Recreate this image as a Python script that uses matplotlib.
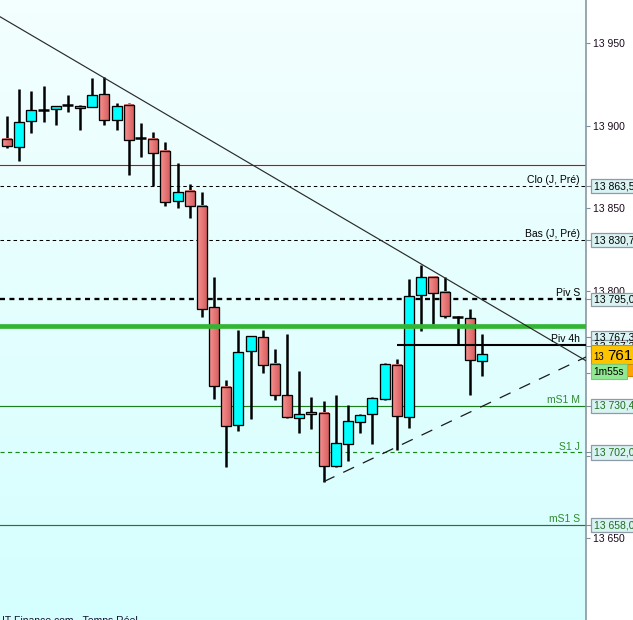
import numpy as np
import matplotlib
matplotlib.use('Agg')
import matplotlib.pyplot as plt
from matplotlib.patches import Rectangle
from matplotlib.ticker import FuncFormatter, MultipleLocator

plt.rcParams['font.family'] = ['Liberation Sans', 'DejaVu Sans']
plt.rcParams['lines.scale_dashes'] = False

# candles
opens = [13892.1, 13887.0, 13903.0, 13909.5, 13910.3, 13912.7, 13912.1, 13911.3, 13919.0, 13903.6,
         13912.9, 13892.4, 13892.1, 13885.0, 13854.4, 13860.5, 13851.3, 13789.9, 13741.9, 13718.8,
         13763.8, 13771.7, 13755.9, 13737.0, 13723.1, 13725.5, 13726.1, 13693.9, 13707.3, 13720.6,
         13725.5, 13734.6, 13755.3, 13723.7, 13797.2, 13808.2, 13799.1, 13784.2, 13783.3, 13757.7]
highs = [13906.2, 13922.0, 13920.8, 13923.9, 13912.1, 13918.4, 13912.9, 13928.7, 13929.3, 13914.1,
         13913.7, 13901.5, 13896.5, 13890.0, 13877.7, 13864.7, 13860.0, 13808.4, 13745.7, 13776.1,
         13772.3, 13776.0, 13765.0, 13774.1, 13751.6, 13735.4, 13733.0, 13737.0, 13731.0, 13725.5,
         13735.8, 13756.5, 13758.9, 13807.0, 13815.5, 13808.4, 13808.2, 13784.5, 13788.7, 13774.1]
lows = [13886.4, 13878.9, 13895.5, 13902.2, 13900.2, 13908.2, 13897.7, 13911.3, 13900.3, 13897.7,
        13870.4, 13880.9, 13863.5, 13851.1, 13849.9, 13844.4, 13784.2, 13734.4, 13693.0, 13714.9,
        13722.2, 13750.2, 13733.8, 13722.8, 13713.7, 13716.1, 13684.3, 13693.3, 13696.7, 13713.7,
        13707.0, 13734.0, 13703.6, 13717.0, 13775.4, 13779.6, 13783.3, 13767.4, 13737.0, 13748.6]
closes = [13887.6, 13902.6, 13909.7, 13909.5, 13912.1, 13912.7, 13910.9, 13918.4, 13903.4, 13912.1,
          13891.5, 13892.4, 13883.6, 13853.6, 13859.9, 13851.3, 13788.7, 13742.5, 13718.2, 13763.2,
          13772.3, 13755.3, 13737.0, 13723.7, 13725.5, 13726.7, 13693.9, 13707.9, 13721.2, 13724.9,
          13735.2, 13755.9, 13724.3, 13796.6, 13808.2, 13798.4, 13784.5, 13784.2, 13758.3, 13761.4]

# levels
red_level = 13876.2
clo_prev = 13863.5
bas_prev = 13830.7
piv_s = 13795.0
green_level = 13778.5
piv_4h = 13767.3
ms1_m = 13730.4
s1_j = 13702.0
ms1_s = 13658.0
last_price = 13761.4
timer_text = '1m55s'

# trend lines (index, price)
down_x = [-0.575, 47.54]
down_y = [13966.1, 13757.6]
up_x = [26.0, 47.54]
up_y = [13684.3, 13759.9]
piv4h_start = 32.0

XMIN, XMAX = -0.575, 47.54
YMAX = 13976.24
YMIN = 13600.48
PX = (YMAX - YMIN) / 620.0  # price per pixel
AXW = 586.0

fig = plt.figure(figsize=(6.33, 6.20), dpi=100, facecolor='white')
ax = fig.add_axes([0, 0, AXW / 633, 1])

# background gradient
g = np.linspace(0, 1, 256)[:, None]
top = np.array([0.955, 0.997, 0.997])
bot = np.array([0.835, 1.0, 1.0])
bg = (top[None, None, :] * (1 - g[:, :, None]) + bot[None, None, :] * g[:, :, None])
ax.imshow(bg, extent=[XMIN, XMAX, YMIN, YMAX], aspect='auto', origin='upper', zorder=0)

# horizontal levels (behind candles)
ax.axhline(red_level, color='#e00000', lw=0.8, zorder=1)
ax.axhline(clo_prev, color='black', lw=0.75, ls=(0, (2.5, 2.2)), zorder=1)
ax.axhline(bas_prev, color='black', lw=0.75, ls=(0, (2.5, 2.2)), zorder=1)
ax.axhline(piv_s, color='black', lw=1.65, ls=(0, (3.6, 3.2)), zorder=1)
ax.axhline(ms1_m, color='#1b7f1b', lw=0.85, zorder=1)
ax.axhline(s1_j, color='#1a8a1a', lw=0.85, ls=(0, (3.0, 2.4)), zorder=1)
ax.axhline(ms1_s, color='#2f6f2f', lw=0.85, zorder=1)

# candles
w = 0.82
red_grad = np.linspace(0, 1, 16)[None, :, None]
r_left = np.array([0.97, 0.57, 0.57])
r_right = np.array([0.85, 0.38, 0.38])
red_img = r_left * (1 - red_grad) + r_right * red_grad
for i in range(len(opens)):
    o, h, l, c = opens[i], highs[i], lows[i], closes[i]
    ax.vlines(i, l, h, color='black', lw=1.8, zorder=3)
    if abs(c - o) < 0.3:
        ax.hlines(o, i - 0.45, i + 0.45, color='black', lw=1.8, zorder=4)
        continue
    y0, y1 = min(o, c), max(o, c)
    if c < o:
        ax.imshow(red_img, extent=[i - w / 2, i + w / 2, y0, y1], aspect='auto', zorder=4)
        ax.add_patch(Rectangle((i - w / 2, y0), w, y1 - y0, fc='none', ec='black', lw=0.95, zorder=5))
    else:
        ax.add_patch(Rectangle((i - w / 2, y0), w, y1 - y0, fc='#00ffff', ec='black', lw=0.95, zorder=5))

# lines in front
ax.axhline(green_level, color='#33b533', lw=3.4, zorder=6)
ax.hlines(piv_4h, piv4h_start, XMAX, color='black', lw=1.5, zorder=6)
ax.plot(down_x, down_y, color='#2a2a2a', lw=0.85, zorder=6)
ax.plot(up_x, up_y, color='#1a1a1a', lw=0.9, ls=(0, (8.6, 7.0)), zorder=6)

tr = ax.get_yaxis_transform()

def line_label(price, text, color):
    ax.annotate(text, xy=(580 / AXW, price), xycoords=tr, xytext=(0, 2.0),
                textcoords='offset points', ha='right', va='baseline',
                fontsize=7.5, color=color, zorder=7)

line_label(clo_prev, 'Clo (J, Pré)', 'black')
line_label(bas_prev, 'Bas (J, Pré)', 'black')
line_label(piv_s, 'Piv S', 'black')
line_label(piv_4h, 'Piv 4h', 'black')
line_label(ms1_m, 'mS1 M', '#2e8b2e')
line_label(s1_j, 'S1 J', '#2e8b2e')
line_label(ms1_s, 'mS1 S', '#2e8b2e')

ax.set_xlim(XMIN, XMAX)
ax.set_ylim(YMIN, YMAX)
ax.set_xticks([])
ax.yaxis.tick_right()
ax.yaxis.set_major_locator(MultipleLocator(50))
ax.yaxis.set_major_formatter(FuncFormatter(lambda v, p: f"{int(round(v)):,}".replace(',', ' ')))
ax.tick_params(axis='y', direction='out', length=3, width=0.8, color='#7f8f9a',
               pad=2.2, labelsize=7.5, labelcolor='#1a0a1a')
for s in ['left', 'top', 'bottom']:
    ax.spines[s].set_visible(False)
ax.spines['right'].set_color('#7f8f9a')
ax.spines['right'].set_linewidth(1.1)


def axis_box(price, text, color, dy_px=0.0, h=14):
    yc = price - dy_px * PX
    ax.plot([1, 591 / AXW], [yc, yc], transform=tr, color='#7f8f9a', lw=0.8,
            clip_on=False, zorder=6)
    ax.add_patch(Rectangle((591 / AXW, yc - h / 2 * PX), 60 / AXW, h * PX, transform=tr,
                           fc='#d9f3f3', ec='#8c9ba5', lw=0.9, clip_on=False, zorder=6))
    ax.text(594 / AXW, yc, text, transform=tr, ha='left', va='center', fontsize=7.5,
            color=color, clip_on=False, zorder=7)


def fmt(v):
    return f"{v:,.1f}".replace(',', ' ').replace('.', ',')


axis_box(clo_prev, fmt(clo_prev), 'black')
axis_box(bas_prev, fmt(bas_prev), 'black')
axis_box(piv_s, fmt(piv_s), 'black', h=13)
axis_box(piv_4h, fmt(piv_4h), 'black', dy_px=-7.5, h=13)
axis_box(piv_4h, fmt(piv_4h), 'black', dy_px=1.5, h=13)
axis_box(ms1_m, fmt(ms1_m), '#1e6e1e')
axis_box(s1_j, fmt(s1_j), '#1e6e1e', h=15)
axis_box(ms1_s, fmt(ms1_s), '#1e6e1e')

# current price + timer
ax.add_patch(Rectangle((627 / AXW, last_price - 21.5 * PX), 20 / AXW, 15 * PX, transform=tr,
                       fc='#ffa500', ec='#d08000', lw=0.8, clip_on=False, zorder=8))
ax.add_patch(Rectangle((591 / AXW, last_price - 9.7 * PX), 60 / AXW, 19.4 * PX, transform=tr,
                       fc='#ffc400', ec='#c89000', lw=0.8, clip_on=False, zorder=9))
price_str = f"{int(last_price):,}".replace(',', ' ')
big, small = price_str.split(' ')[1], price_str.split(' ')[0]
ax.text(593 / AXW, last_price - 6 * PX, small, transform=tr, ha='left', va='baseline',
        fontsize=7, color='black', clip_on=False, zorder=10)
ax.text(607 / AXW, last_price - 6 * PX, big, transform=tr, ha='left', va='baseline',
        fontsize=11, color='black', clip_on=False, zorder=10)
ax.add_patch(Rectangle((591 / AXW, last_price - 25 * PX), 35.7 / AXW, 15.6 * PX, transform=tr,
                       fc='#90e890', ec='#7ac87a', lw=0.8, clip_on=False, zorder=9))
ax.text(593.5 / AXW, last_price - 17.2 * PX, timer_text, transform=tr, ha='left', va='center',
        fontsize=7.3, color='black', clip_on=False, zorder=10)

fig.text(2 / 633, 1 - 615.8 / 620, 'IT-Finance.com - Temps Réel', ha='left', va='top',
         fontsize=7.5, color='#101030')

fig.savefig('out.png', dpi=100, facecolor='white')
